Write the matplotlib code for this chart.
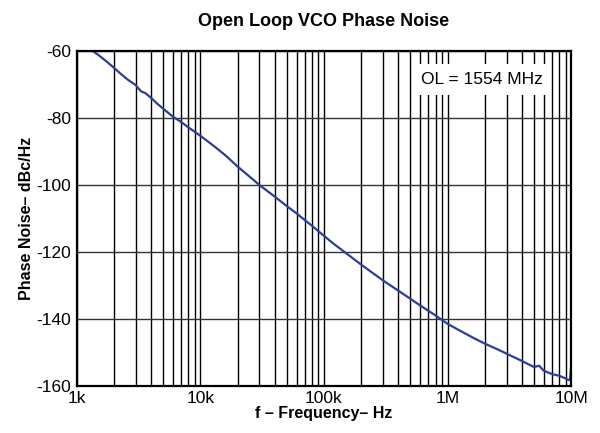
#!/usr/bin/env python3
"""
Open Loop VCO Phase Noise - recreated log-frequency phase noise plot.
"""

import matplotlib
matplotlib.use("Agg")
import matplotlib.pyplot as plt
from matplotlib.ticker import FixedLocator, LogLocator, NullFormatter

# Phase noise (Hz, dBc/Hz)
freq_hz = [1.35e3, 1.5e3, 1.7e3, 2e3, 2.3e3, 2.6e3, 3e3, 3.3e3, 3.6e3, 4e3,
           4.5e3, 5e3, 6e3, 7e3, 8e3, 1e4, 1.3e4, 1.6e4, 2e4, 2.5e4,
           3e4, 4e4, 5e4, 6e4, 7e4, 8e4, 1e5, 1.2e5, 1.5e5, 2e5,
           2.5e5, 3e5, 4e5, 5e5, 6e5, 7e5, 8e5, 1e6, 1.3e6, 1.6e6,
           2e6, 2.5e6, 3e6, 4e6, 5e6, 5.5e6, 6e6, 7e6, 8e6, 9e6,
           9.5e6, 9.8e6, 9.95e6]
phase_noise = [-60.0, -61.2, -62.8, -65.0, -67.0, -68.6, -70.2, -72.0, -72.6, -74.0,
               -75.8, -77.2, -79.6, -81.2, -82.8, -85.3, -88.5, -91.2, -94.5, -97.5,
               -100.0, -103.5, -106.3, -108.5, -110.5, -112.2, -115.2, -117.6, -120.3, -123.8,
               -126.4, -128.5, -131.6, -134.0, -136.0, -137.6, -139.0, -141.5, -143.8, -145.6,
               -147.4, -149.0, -150.4, -152.6, -154.4, -154.0, -155.5, -156.5, -157.0, -157.8,
               -158.3, -158.0, -155.0]

x_ticks = [1e3, 1e4, 1e5, 1e6, 1e7]
x_tick_labels = ["1k", "10k", "100k", "1M", "10M"]
y_ticks = [-160, -140, -120, -100, -80, -60]

plt.rcParams['font.family'] = ['Liberation Sans', 'DejaVu Sans']
plt.rcParams['axes.unicode_minus'] = False

fig = plt.figure(figsize=(6.0, 4.33), dpi=100)
ax = fig.add_axes([0.128, 0.109, 0.824, 0.773])

ax.plot(freq_hz, phase_noise, color='#2e3d9a', linewidth=1.6)

ax.set_xscale('log')
ax.set_xlim(1e3, 1e7)
ax.set_ylim(-160, -60)

ax.xaxis.set_major_locator(FixedLocator(x_ticks))
ax.set_xticklabels(x_tick_labels)
ax.xaxis.set_minor_locator(LogLocator(base=10, subs=range(2, 10)))
ax.xaxis.set_minor_formatter(NullFormatter())
ax.set_yticks(y_ticks)

ax.grid(True, which='both', axis='x', color='black', linewidth=1.0)
ax.grid(True, which='major', axis='y', color='#333333', linewidth=1.0)
ax.tick_params(which='both', length=0, labelsize=12.5, pad=4)

for s in ax.spines.values():
    s.set_linewidth(1.6)
    s.set_color('black')

ax.set_title('Open Loop VCO Phase Noise', fontsize=13, fontweight='bold', pad=18)
ax.set_xlabel('f \u2013 Frequency\u2013 Hz', fontsize=11.5, fontweight='bold', labelpad=0)
ax.set_ylabel('Phase Noise\u2013 dBc/Hz', fontsize=11.5, fontweight='bold', labelpad=2)

ax.text(0.82, 0.915, 'OL = 1554 MHz', transform=ax.transAxes, fontsize=12.5,
        ha='center', va='center', zorder=5,
        bbox=dict(boxstyle='square,pad=0.45', facecolor='white', edgecolor='none'))

plt.savefig('out.png', dpi=100)
